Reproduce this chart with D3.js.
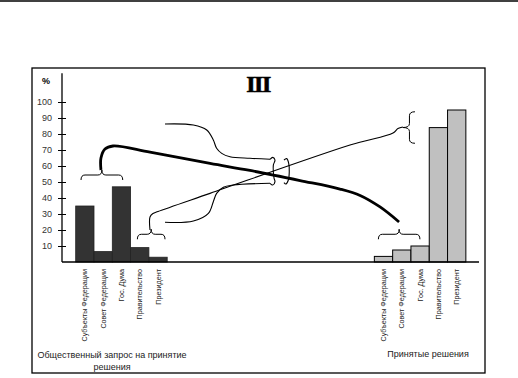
<!DOCTYPE html>
<html>
<head>
<meta charset="utf-8">
<script src="https://cdn.jsdelivr.net/npm/d3@7/dist/d3.min.js"></script>
<style>
  body { margin: 0; background: #fff; }
  svg { display: block; font-family: "Liberation Sans", Arial, sans-serif; }
</style>
</head>
<body>
<div id="chart"></div>
<script>
// Categories (same for both groups)
const categories = ['Субъекты Федерации', 'Совет Федерации', 'Гос. Дума', 'Правительство', 'Президент'];
// Left group: public request, %
const requestValues = [35, 6.5, 47, 9, 3];
// Right group: decisions taken, %
const decisionValues = [3.5, 7.5, 10, 84, 95];
const yTicks = [10, 20, 30, 40, 50, 60, 70, 80, 90, 100];
const requestTitle = ['Общественный запрос на принятие', 'решения'];
const decisionTitle = 'Принятые решения';
const chartTitle = 'III';

// Annotation shapes in data units: [slot, percent]
const thickLink = [[1.38, 57.5], [1.38, 65], [1.6, 70.6], [2.04, 72.5], [4.06, 68.6], [7.34, 61.6],
  [9.52, 57.2], [12.26, 50.9], [14.44, 45.6], [15.54, 41.6], [16.63, 34.4], [17.67, 25]];
const thinLink = [[4.06, 20], [4.06, 28.1], [4.22, 30.3], [4.5, 31.6], [7.34, 42.9], [14.99, 73.1],
  [17.34, 80.6], [17.61, 83.4], [17.88, 84.4]];
const upperArm = [[4.88, 86.25], [6.43, 85.6], [7.16, 82.5], [7.52, 76.25], [7.7, 71.1], [7.98, 67.9],
  [8.43, 65.8], [9.52, 64.8], [10.62, 64.2]];
const lowerArm = [[4.88, 24.8], [6.43, 25.6], [7.25, 30.4], [7.52, 37.7], [7.7, 42.9], [8.07, 46.7],
  [8.61, 48.1], [10.62, 49.2]];
const leftLoop = [[10.62, 64.2], [10.77, 65.4], [10.89, 63.75], [10.8, 60.6], [10.8, 56.4], [10.84, 52.3],
  [10.89, 50.2], [10.77, 48.1], [10.62, 49.2]];
const rightLoop = [[11.38, 63.75], [11.53, 64.6], [11.64, 61.7], [11.67, 56.4], [11.62, 51.25],
  [11.49, 48.75], [11.38, 49.6]];
// Horizontal braces: [slotFrom, slotTo, percent at ends]
const hBraces = [[0.29, 2.57, 51.25], [3.37, 4.88, 14.2], [16.54, 18.81, 14.2]];
// Vertical brace: [slotEnds, slotTip, percentTop, percentBottom]
const vBraces = [[18.54, 17.88, 93.9, 74.2]];

// Layout
const W = 518, H = 378;
const frame = { left: 32, top: 68, right: 485, bottom: 373 };
const axisX = 62, baseRight = 479;
const rightOffset = 16.32;

const svg = d3.select('#chart').append('svg')
  .attr('width', W).attr('height', H);

const x = d3.scaleLinear().domain([0, 1]).range([75.7, 94]);
const bw = x(1) - x(0);
const y = d3.scaleLinear().domain([0, 100]).range([262, 102]);

// Page line and frame
svg.append('line').attr('x1', 0).attr('x2', W).attr('y1', 1).attr('y2', 1)
  .attr('stroke', '#000').attr('stroke-width', 1.5);
svg.append('rect')
  .attr('x', frame.left).attr('y', frame.top)
  .attr('width', frame.right - frame.left).attr('height', frame.bottom - frame.top)
  .attr('fill', 'none').attr('stroke', '#000').attr('stroke-width', 1.3);

// Title
svg.append('text').attr('x', 258).attr('y', 92).attr('text-anchor', 'middle')
  .style('font-family', '"Liberation Serif", "Times New Roman", serif')
  .style('font-weight', 'bold').style('font-size', '24px').style('letter-spacing', '-1.5px')
  .attr('stroke', '#000').attr('stroke-width', 0.6)
  .text(chartTitle);

// Bars
const leftData = categories.map((c, i) => ({ c, v: requestValues[i], pos: i }));
const rightData = categories.map((c, i) => ({ c, v: decisionValues[i], pos: i + rightOffset }));

svg.selectAll('.bar-left').data(leftData).enter().append('rect')
  .attr('class', 'bar-left')
  .attr('x', d => x(d.pos)).attr('y', d => y(d.v))
  .attr('width', bw).attr('height', d => y(0) - y(d.v))
  .attr('fill', '#333').attr('stroke', '#222').attr('stroke-width', 0.8);

svg.selectAll('.bar-right').data(rightData).enter().append('rect')
  .attr('class', 'bar-right')
  .attr('x', d => x(d.pos)).attr('y', d => y(d.v))
  .attr('width', bw).attr('height', d => y(0) - y(d.v))
  .attr('fill', '#c0c0c0').attr('stroke', '#000').attr('stroke-width', 1);

// Y axis
const yAxis = svg.append('g').attr('transform', `translate(${axisX},0)`)
  .call(d3.axisLeft(y).tickValues(yTicks).tickSize(4).tickPadding(6));
yAxis.select('.domain').remove();
yAxis.selectAll('.tick line').attr('x1', 4).attr('x2', -4).attr('stroke', '#000').attr('stroke-width', 1);
yAxis.selectAll('.tick text').style('font-size', '9px').style('font-family', '"Liberation Sans", Arial, sans-serif')
  .attr('fill', '#333');
svg.append('line').attr('x1', axisX).attr('x2', axisX).attr('y1', y(0)).attr('y2', y(118))
  .attr('stroke', '#000').attr('stroke-width', 1.3);
svg.append('text').attr('x', 42).attr('y', 84).style('font-size', '9px').style('font-weight', 'bold')
  .text('%');

// Baseline
svg.append('line').attr('x1', axisX).attr('x2', baseRight).attr('y1', y(0)).attr('y2', y(0))
  .attr('stroke', '#000').attr('stroke-width', 1.3);

// Category labels
svg.selectAll('.cat').data(leftData.concat(rightData)).enter().append('text')
  .attr('class', 'cat')
  .attr('transform', d => `translate(${x(d.pos) + bw / 2},${y(0) + 7}) rotate(-90)`)
  .attr('text-anchor', 'end').attr('dy', '0.35em')
  .style('font-size', '7.2px').attr('fill', '#222')
  .text(d => d.c);

// Group titles
svg.append('text').attr('x', 112).attr('y', 358).attr('text-anchor', 'middle')
  .style('font-size', '9px').attr('fill', '#222')
  .selectAll('tspan').data(requestTitle).enter().append('tspan')
  .attr('x', 112).attr('dy', (d, i) => i ? 12 : 0).text(d => d);
svg.append('text').attr('x', 428).attr('y', 357).attr('text-anchor', 'middle')
  .style('font-size', '9px').attr('fill', '#222').text(decisionTitle);

// Annotations
const line = d3.line().x(d => x(d[0])).y(d => y(d[1])).curve(d3.curveCatmullRom.alpha(0.5));
svg.append('path').attr('d', line(thickLink)).attr('fill', 'none').attr('stroke', '#000').attr('stroke-width', 2.8);
[thinLink, upperArm, lowerArm, leftLoop, rightLoop].forEach(pts => {
  svg.append('path').attr('d', line(pts)).attr('fill', 'none').attr('stroke', '#000').attr('stroke-width', 1.1);
});

const braceH = b => {
  const x1 = x(b[0]), x2 = x(b[1]), yb = y(b[2]), xm = (x1 + x2) / 2;
  const ym = yb - 5, yt = yb - 10;
  return `M${x1},${yb}Q${x1},${ym} ${x1 + 4},${ym}L${xm - 4},${ym}Q${xm},${ym} ${xm},${yt}` +
    `Q${xm},${ym} ${xm + 4},${ym}L${x2 - 4},${ym}Q${x2},${ym} ${x2},${yb}`;
};
const braceV = b => {
  const xe = x(b[0]), xt = x(b[1]), y1 = y(b[2]), y2 = y(b[3]);
  const xm = (xe + xt) / 2 + 0.5, yc = (y1 + y2) / 2;
  return `M${xe},${y1}Q${xm},${y1} ${xm},${y1 + 4}L${xm},${yc - 4}Q${xm},${yc} ${xt},${yc}` +
    `Q${xm},${yc} ${xm},${yc + 4}L${xm},${y2 - 4}Q${xm},${y2} ${xe},${y2}`;
};
svg.selectAll('.hbrace').data(hBraces).enter().append('path').attr('class', 'hbrace')
  .attr('d', braceH).attr('fill', 'none').attr('stroke', '#000').attr('stroke-width', 1);
svg.selectAll('.vbrace').data(vBraces).enter().append('path').attr('class', 'vbrace')
  .attr('d', braceV).attr('fill', 'none').attr('stroke', '#000').attr('stroke-width', 1);
</script>
</body>
</html>
